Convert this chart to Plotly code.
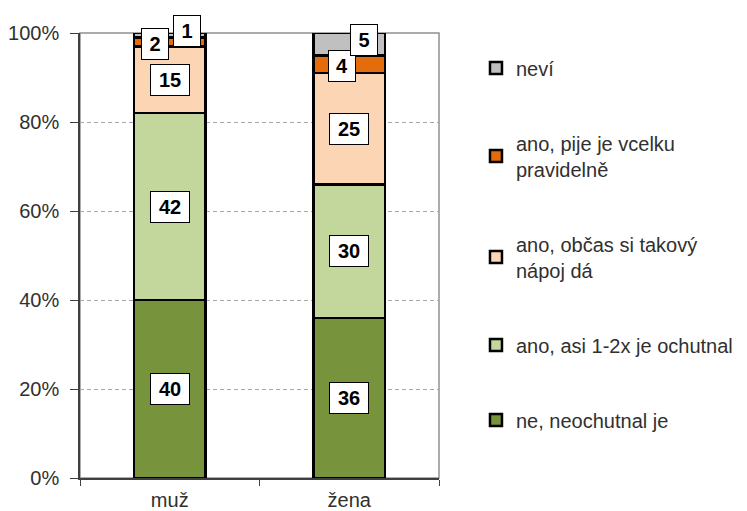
import plotly.graph_objects as go

categories = ["muž", "žena"]
series_names = ["ne, neochutnal je", "ano, asi 1-2x je ochutnal",
                "ano, občas si takový<br>nápoj dá", "ano, pije je vcelku<br>pravidelně", "neví"]
values = {
    "ne, neochutnal je": [40, 36],
    "ano, asi 1-2x je ochutnal": [42, 30],
    "ano, občas si takový<br>nápoj dá": [15, 25],
    "ano, pije je vcelku<br>pravidelně": [2, 4],
    "neví": [1, 5],
}
colors = ["#77933C", "#C3D69B", "#FCD5B5", "#E46C0A", "#C0C0C0"]
yticks = [0, 20, 40, 60, 80, 100]
ytick_labels = ["0%", "20%", "40%", "60%", "80%", "100%"]

# pixel nudges for small labels (series index, category index) -> (xshift, yshift)
nudges = {(3, 0): (-15, -2), (4, 0): (17, 4), (3, 1): (-7, -2), (4, 1): (15, 4)}

FONT = "Arial, Liberation Sans, sans-serif"
fig = go.Figure()
for i, name in enumerate(series_names):
    fig.add_trace(go.Bar(
        x=categories, y=values[name], name=name,
        marker=dict(color=colors[i], line=dict(color="black", width=2.5)),
        width=0.4, legendgroup=str(i), legendrank=100 - i,
    ))

annotations = []
base = [0, 0]
for i, name in enumerate(series_names):
    for j, cat in enumerate(categories):
        v = values[name][j]
        xs, ys = nudges.get((i, j), (0, 0))
        annotations.append(dict(
            x=cat, y=base[j] + v / 2, xref="x", yref="y", text=f"<b>{v}</b>",
            showarrow=False, font=dict(family=FONT, size=20, color="black"),
            bgcolor="white", bordercolor="black", borderwidth=1, borderpad=0,
            width=38 if v >= 10 else 26, height=30, xshift=xs, yshift=ys,
        ))
        base[j] += v

fig.update_layout(
    width=747, height=511,
    margin=dict(l=72, r=316, t=25, b=41, autoexpand=False),
    barmode="stack",
    plot_bgcolor="white", paper_bgcolor="white",
    font=dict(family=FONT, size=20, color="#303030"),
    annotations=annotations,
    legend=dict(x=1.103, y=0.965, xanchor="left", yanchor="top",
                tracegroupgap=46,
                font=dict(family=FONT, size=20, color="#303030"),
                itemwidth=30),
    shapes=[dict(type="rect", xref="paper", yref="paper", x0=0, y0=0, x1=1, y1=1,
                 line=dict(color="#909090", width=1.5), layer="below")],
    xaxis=dict(range=[-0.5, 1.5], showline=True, linecolor="#404040", linewidth=1.5,
               ticks="outside", tickson="boundaries", ticklen=6, tickcolor="#404040",
               automargin=False, ticklabelstandoff=3,
               tickfont=dict(family=FONT, size=20, color="#303030")),
    yaxis=dict(range=[0, 100], tickvals=yticks, ticktext=ytick_labels,
               showline=True, linecolor="#404040", linewidth=1.5,
               ticks="outside", ticklen=8, tickcolor="#404040",
               showgrid=True, gridcolor="#A8A8A8", griddash="4px,3px", gridwidth=1,
               zeroline=False, automargin=False, ticklabelstandoff=7,
               tickfont=dict(family=FONT, size=20, color="#303030")),
)
fig.write_html("out.html")
